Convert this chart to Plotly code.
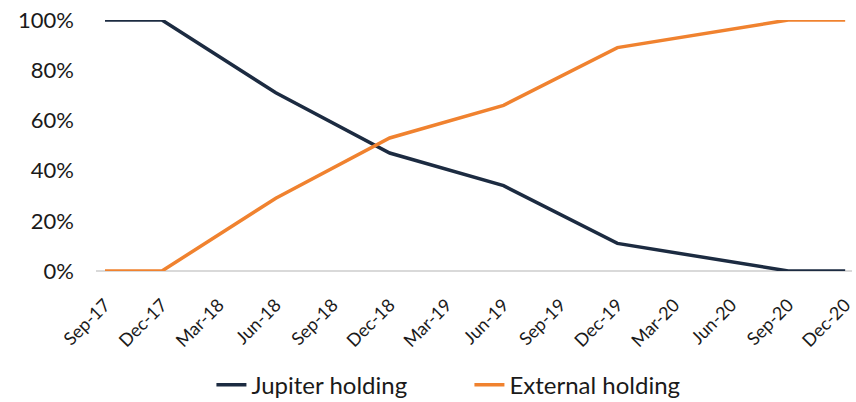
import plotly.graph_objects as go

# Quarter-end labels along the x axis
quarters = ["Sep-17", "Dec-17", "Mar-18", "Jun-18", "Sep-18", "Dec-18", "Mar-19",
            "Jun-19", "Sep-19", "Dec-19", "Mar-20", "Jun-20", "Sep-20", "Dec-20"]

# Observation dates and holding shares
obs_quarters = ["Sep-17", "Dec-17", "Jun-18", "Dec-18", "Jun-19", "Dec-19", "Sep-20", "Dec-20"]
jupiter_holding = [1.00, 1.00, 0.71, 0.47, 0.34, 0.11, 0.00, 0.00]
external_holding = [0.00, 0.00, 0.29, 0.53, 0.66, 0.89, 1.00, 1.00]

x_pos = [quarters.index(q) for q in obs_quarters]

NAVY = "#1c2b41"
ORANGE = "#f0822f"
FONT = "Lato, 'Source Sans Pro', sans-serif"

fig = go.Figure()
fig.add_trace(go.Scatter(x=x_pos, y=jupiter_holding, mode="lines", name="Jupiter holding",
                         line=dict(color=NAVY, width=3.5), cliponaxis=False))
fig.add_trace(go.Scatter(x=x_pos, y=external_holding, mode="lines", name="External holding",
                         line=dict(color=ORANGE, width=3.5), cliponaxis=False))

fig.update_layout(
    width=856, height=402,
    margin=dict(l=96, r=4, t=20, b=131),
    paper_bgcolor="white", plot_bgcolor="white",
    font=dict(family=FONT, color="#1a1a1a"),
    showlegend=True,
    legend=dict(orientation="h", xref="container", yref="container",
                x=0.247, xanchor="left", y=0.042, yanchor="middle",
                font=dict(size=24, family=FONT), entrywidth=213, entrywidthmode="pixels",
                tracegroupgap=0),
    xaxis=dict(
        range=[-0.158, 13.12], automargin=False,
        tickmode="array", tickvals=list(range(len(quarters))), ticktext=quarters,
        tickangle=-45, tickfont=dict(size=18, family=FONT), ticklabelstandoff=19,
        showgrid=False, zeroline=False, showline=False, ticks="",
    ),
    yaxis=dict(
        range=[0, 1], automargin=False,
        tickmode="array", tickvals=[0, 0.2, 0.4, 0.6, 0.8, 1.0],
        tickformat=".0%", tickfont=dict(size=22, family=FONT),
        showgrid=False, zeroline=True, zerolinecolor="#d9d9d9", zerolinewidth=1.5,
        showline=False, ticks="", ticklabelstandoff=21,
    ),
)

fig.write_html("out.html")
